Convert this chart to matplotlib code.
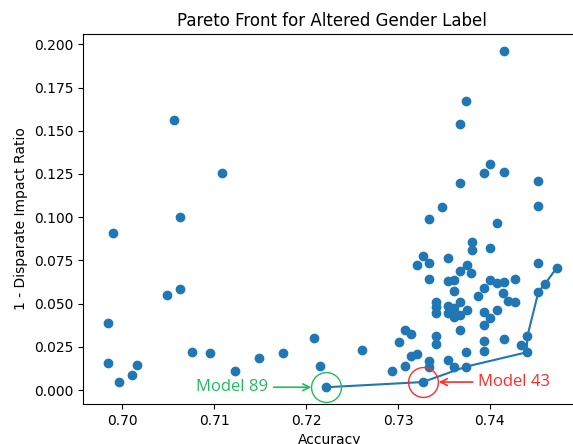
import matplotlib
matplotlib.use("Agg")
import matplotlib.pyplot as plt
import numpy as np

# accuracy / (1 - disparate impact ratio) for every trained model
accuracy = [
    0.6990, 0.6984, 0.6984, 0.6996, 0.7010, 0.7016, 0.7049, 0.7056, 0.7063, 0.7063,
    0.7108, 0.7076, 0.7095, 0.7123, 0.7149, 0.7175, 0.7209, 0.7215, 0.7222, 0.7261,
    0.7294, 0.7301, 0.7308, 0.7314, 0.7321, 0.7308, 0.7314, 0.7327, 0.7334, 0.7334,
    0.7341, 0.7341, 0.7354, 0.7361, 0.7374, 0.7374, 0.7367, 0.7394, 0.7394, 0.7394,
    0.7415, 0.7434, 0.7440, 0.7441,
    0.7341, 0.7341, 0.7341, 0.7354, 0.7361, 0.7367, 0.7375, 0.7361, 0.7367, 0.7394,
    0.7400, 0.7408, 0.7354,
    0.7334, 0.7354, 0.7361, 0.7361, 0.7400, 0.7408, 0.7415, 0.7427, 0.7394, 0.7414,
    0.7387, 0.7420, 0.7427,
    0.7327, 0.7321, 0.7334, 0.7354, 0.7375, 0.7367, 0.7380, 0.7381, 0.7381, 0.7400,
    0.7453, 0.7453, 0.7460, 0.7473,
    0.7400, 0.7394, 0.7415, 0.7367, 0.7453, 0.7348, 0.7334, 0.7453, 0.7408, 0.7415,
    0.7374, 0.7368,
]
disparity = [
    0.0909, 0.0388, 0.0156, 0.0046, 0.0085, 0.0145, 0.0550, 0.1563, 0.0584, 0.0999,
    0.1254, 0.0218, 0.0214, 0.0110, 0.0183, 0.0214, 0.0301, 0.0139, 0.0016, 0.0231,
    0.0110, 0.0278, 0.0139, 0.0197, 0.0208, 0.0347, 0.0324, 0.0046, 0.0170, 0.0135,
    0.0313, 0.0265, 0.0174, 0.0135, 0.0135, 0.0220, 0.0347, 0.0285, 0.0228, 0.0376,
    0.0297, 0.0260, 0.0218, 0.0313,
    0.0507, 0.0480, 0.0444, 0.0488, 0.0475, 0.0507, 0.0463, 0.0424, 0.0434, 0.0453,
    0.0418, 0.0465, 0.0444,
    0.0641, 0.0631, 0.0637, 0.0573, 0.0637, 0.0617, 0.0627, 0.0641, 0.0588, 0.0560,
    0.0543, 0.0516, 0.0507,
    0.0775, 0.0721, 0.0733, 0.0765, 0.0721, 0.0689, 0.0679, 0.0858, 0.0810, 0.0822,
    0.0733, 0.0569, 0.0613, 0.0708,
    0.1308, 0.1256, 0.1262, 0.1198, 0.1209, 0.1059, 0.0990, 0.1065, 0.0966, 0.1962,
    0.1672, 0.1538,
]

# pareto-optimal models, ordered by accuracy
front_acc = [0.7222, 0.7327, 0.7374, 0.7440, 0.7441, 0.7453, 0.7460, 0.7473]
front_disp = [0.0016, 0.0046, 0.0135, 0.0218, 0.0313, 0.0569, 0.0613, 0.0708]

destaques = {
    "Model 89": (0.7222, 0.0016, "#22bb5c", -42, 10.8),
    "Model 43": (0.7327, 0.0046, "#ff2b2b", 40, 11.5),
}

W, H = 573, 444
fig = plt.figure(figsize=(W / 100, H / 100), dpi=100)
# eixo em pixels: esq 83, topo 34, base 404; a borda direita passa do quadro
ax = fig.add_axes([83 / W, (H - 404) / H, 517 / W, 370 / H])

ax.scatter(accuracy, disparity, color="#1f77b4")
ax.plot(front_acc, front_disp, color="#1f77b4")

for nome, (x, y, cor, dx, encolhe) in destaques.items():
    ax.plot(x, y, "o", ms=21.5, mfc="none", mec=cor, mew=1.0)
    ax.annotate(
        nome, xy=(x, y), xytext=(dx, 0), textcoords="offset points",
        ha="right" if dx < 0 else "left", va="center", color=cor,
        fontsize=12, family=["Open Sans", "DejaVu Sans"],
        arrowprops=dict(arrowstyle="->", color=cor, lw=1.2,
                        shrinkA=2, shrinkB=encolhe),
    )

ax.set_xlim(0.6957, 0.7520)
ax.set_ylim(-0.0081, 0.2060)
ax.set_xticks([0.70, 0.71, 0.72, 0.73, 0.74])
ax.set_yticks(np.arange(0, 0.2001, 0.025))
ax.set_title("Pareto Front for Altered Gender Label", x=(332 - 83) / 517)
ax.set_xlabel("Accuracy", x=(330 - 83) / 517)
ax.set_ylabel("1 - Disparate Impact Ratio")

fig.savefig("out.png", dpi=100)
